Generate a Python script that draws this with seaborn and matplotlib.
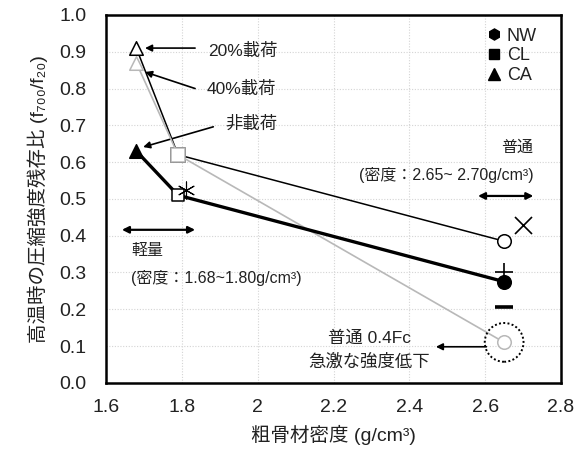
import matplotlib
matplotlib.use("Agg")
import matplotlib.pyplot as plt
from matplotlib.lines import Line2D
import seaborn as sns
import pandas as pd

# Coarse aggregate density (g/cm3): lightweight CA, lightweight CL, normal NW
density = [1.68, 1.79, 2.65]
ratio_load20 = [0.91, 0.62, 0.385]
ratio_load40 = [0.87, 0.62, 0.11]
ratio_noload = [0.63, 0.51, 0.275]
aggregate = ["CA", "CL", "NW"]

# Supplementary single points
extra_x = [2.70, 2.65, 2.65, 1.81]
extra_y = [0.43, 0.30, 0.205, 0.525]
extra_marker = ["x", "+", "_", (6, 2, 0)]

xticks = [1.6, 1.8, 2.0, 2.2, 2.4, 2.6, 2.8]
xticklabels = ["1.6", "1.8", "2", "2.2", "2.4", "2.6", "2.8"]
yticks = [0.0, 0.1, 0.2, 0.3, 0.4, 0.5, 0.6, 0.7, 0.8, 0.9, 1.0]

sns.set_theme(style="white")
plt.rcParams["font.family"] = ["Liberation Sans", "Noto Sans CJK JP", "DejaVu Sans"]

fig = plt.figure(figsize=(5.76, 4.68), dpi=100)
ax = fig.add_axes([0.184, 0.182, 0.790, 0.786])

df = pd.DataFrame({
    "density": density * 3,
    "ratio": ratio_load20 + ratio_load40 + ratio_noload,
    "case": ["20%"] * 3 + ["40%"] * 3 + ["none"] * 3,
    "agg": aggregate * 3,
})

marker_of = {"CA": "^", "CL": "s", "NW": "o"}
styles = {
    "20%": dict(color="black", lw=1.1, face="white", edge="black", z=3),
    "40%": dict(color="#b8b8b8", lw=1.2, face="white", edge="#b8b8b8", z=4),
    "none": dict(color="black", lw=2.4, face="black", edge="black", z=5),
}

for case, st in styles.items():
    sub = df[df["case"] == case]
    sns.lineplot(data=sub, x="density", y="ratio", ax=ax, color=st["color"],
                 linewidth=st["lw"], sort=False, zorder=st["z"], legend=False)
    for _, r in sub.iterrows():
        face = st["face"]
        size = 95
        if case == "none" and r["agg"] == "CL":
            face, size = "white", 70
        ax.scatter([r["density"]], [r["ratio"]], marker=marker_of[r["agg"]],
                   s=size, facecolor=face, edgecolor=st["edge"],
                   linewidths=1.1, zorder=st["z"] + 0.5)

for xx, yy, mk in zip(extra_x, extra_y, extra_marker):
    lw = {"_": 2.6, "x": 1.2, "+": 1.2}.get(mk, 0.8) if isinstance(mk, str) else 0.8
    ax.scatter([xx], [yy], marker=mk, s=150, color="black", linewidths=lw, zorder=7)

# Dotted ring highlighting the 40% normal-weight point
ax.scatter([density[2]], [ratio_load40[2]], marker="o", s=780, facecolor="none",
           edgecolor="black", linewidths=1.4, linestyle=(0, (1, 1.2)), zorder=6)

ax.set_xlim(1.6, 2.8)
ax.set_ylim(0.0, 1.0)
ax.set_xticks(xticks)
ax.set_xticklabels(xticklabels)
ax.set_yticks(yticks)
ax.set_yticklabels([f"{v:.1f}" for v in yticks])
ax.tick_params(axis="both", length=0, labelsize=14, colors="#222222")
ax.tick_params(axis="x", pad=12)
ax.tick_params(axis="y", pad=14)
ax.grid(True, color="#d4d4d4", linestyle=(0, (1, 1.5)), linewidth=0.8)
for sp in ax.spines.values():
    sp.set_color("black")
    sp.set_linewidth(1.8)

ax.set_xlabel("粗骨材密度 (g/cm³)", fontsize=14, labelpad=6, color="#222222")
ax.set_ylabel("高温時の圧縮強度残存比 (f₇₀₀/f₂₀)", fontsize=14,
              labelpad=8, color="#222222")

tk = dict(fontsize=12.5, color="#222222")
tk_small = dict(fontsize=11.5, color="#222222")
arr = dict(arrowstyle="-|>", color="black", lw=1.2, mutation_scale=10,
           shrinkA=0, shrinkB=0)
dbl = dict(arrowstyle="<|-|>", color="black", lw=1.6, mutation_scale=10,
           shrinkA=0, shrinkB=0)

ax.text(1.96, 0.902, "20%載荷", ha="center", va="center", **tk)
ax.annotate("", xy=(1.703, 0.91), xytext=(1.835, 0.91), arrowprops=arr)
ax.text(1.957, 0.80, "40%載荷", ha="center", va="center", **tk)
ax.annotate("", xy=(1.703, 0.845), xytext=(1.835, 0.80), arrowprops=arr)
ax.text(1.984, 0.704, "非載荷", ha="center", va="center", **tk)
ax.annotate("", xy=(1.698, 0.641), xytext=(1.883, 0.696), arrowprops=arr)

ax.text(2.727, 0.639, "普通", ha="right", va="center", **tk_small)
ax.text(2.727, 0.565, "(密度：2.65~ 2.70g/cm³)", ha="right", va="center", **tk_small)
ax.annotate("", xy=(2.727, 0.508), xytext=(2.581, 0.508), arrowprops=dbl)

ax.text(1.666, 0.361, "軽量", ha="left", va="center", **tk_small)
ax.text(1.666, 0.285, "(密度：1.68~1.80g/cm³)", ha="left", va="center", **tk_small)
ax.annotate("", xy=(1.835, 0.416), xytext=(1.642, 0.416), arrowprops=dbl)

ax.text(2.296, 0.122, "普通 0.4Fc", ha="center", va="center", **tk)
ax.text(2.294, 0.057, "急激な強度低下", ha="center", va="center", **tk)
ax.annotate("", xy=(2.470, 0.098), xytext=(2.603, 0.098), arrowprops=arr)

handles = [
    Line2D([], [], marker="h", color="black", linestyle="none", markersize=8, label="NW"),
    Line2D([], [], marker="s", color="black", linestyle="none", markersize=7, label="CL"),
    Line2D([], [], marker="^", color="black", linestyle="none", markersize=8, label="CA"),
]
leg = ax.legend(handles=handles, loc="upper right", bbox_to_anchor=(0.975, 1.0),
                frameon=False, fontsize=13, handlelength=0.8, handletextpad=0.3,
                labelspacing=0.15, borderaxespad=0.3)
for t in leg.get_texts():
    t.set_color("#222222")

fig.savefig("out.png", dpi=100)
